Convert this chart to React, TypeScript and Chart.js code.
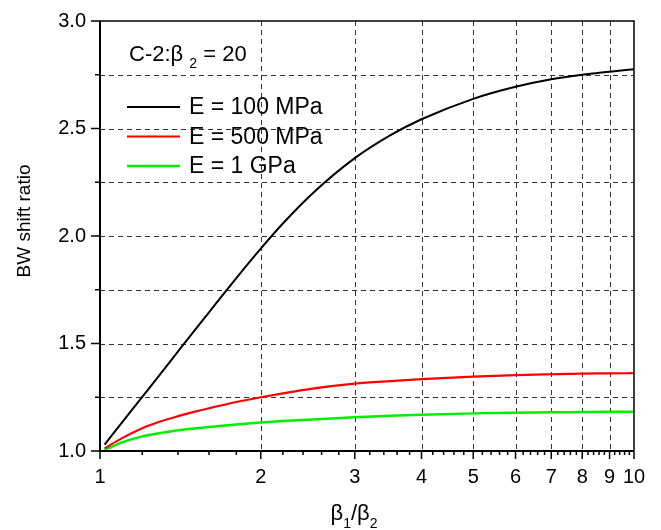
import { useEffect, useRef } from "react";
import { Chart, registerables } from "chart.js";

Chart.register(...registerables);

// ---- data ----
const ratios = [1.02, 1.1, 1.2, 1.3, 1.4, 1.5, 1.6, 1.8, 2, 2.2, 2.5, 3, 3.5, 4, 5, 6, 7, 8, 9, 10];
const e100MPa = [1.03, 1.133, 1.252, 1.361, 1.463, 1.557, 1.645, 1.804, 1.941, 2.058, 2.198, 2.362, 2.469, 2.543, 2.638, 2.694, 2.729, 2.75, 2.764, 2.776];
const e500MPa = [1.012, 1.06, 1.106, 1.138, 1.162, 1.182, 1.199, 1.228, 1.25, 1.268, 1.29, 1.313, 1.325, 1.334, 1.346, 1.353, 1.357, 1.36, 1.361, 1.362];
const e1GPa = [1.004, 1.04, 1.068, 1.084, 1.097, 1.105, 1.112, 1.123, 1.132, 1.139, 1.147, 1.157, 1.164, 1.169, 1.175, 1.178, 1.18, 1.181, 1.182, 1.183];

const seriesLabels = ["E = 100 MPa", "E = 500 MPa", "E = 1 GPa"];
const seriesColors = ["#000000", "#ff0000", "#00ee00"];
const seriesWidths = [2, 2.2, 2.5];

const xTickLabels = [1, 2, 3, 4, 5, 6, 7, 8, 9, 10];
const yTickLabels = [1.0, 1.5, 2.0, 2.5, 3.0];
const yMinorTicks = [1.25, 1.75, 2.25, 2.75];

const FONT = '"Liberation Sans", Arial, Helvetica, sans-serif';

type Part = { t: string; sub?: boolean };

function drawRich(ctx: CanvasRenderingContext2D, parts: Part[], x: number, y: number, size: number, subSize: number, subDrop: number, center = false) {
  const widths = parts.map((p) => {
    ctx.font = `${p.sub ? subSize : size}px ${FONT}`;
    return ctx.measureText(p.t).width;
  });
  const total = widths.reduce((s, w) => s + w, 0);
  let cx = center ? x - total / 2 : x;
  ctx.textAlign = "left";
  ctx.textBaseline = "alphabetic";
  parts.forEach((p, i) => {
    ctx.font = `${p.sub ? subSize : size}px ${FONT}`;
    ctx.fillText(p.t, cx, p.sub ? y + subDrop : y);
    cx += widths[i];
  });
}

const decor = {
  id: "decor",
  beforeDatasetsDraw(chart: any) {
    const { ctx, chartArea: a, scales } = chart;
    const x = scales.x;
    const y = scales.y;
    ctx.save();
    ctx.strokeStyle = "#333";
    ctx.lineWidth = 1;
    ctx.setLineDash([5, 4]);
    for (const v of xTickLabels) {
      if (v <= 1 || v >= 10) continue;
      const px = Math.round(x.getPixelForValue(v)) + 0.5;
      ctx.beginPath();
      ctx.moveTo(px, a.top);
      ctx.lineTo(px, a.bottom);
      ctx.stroke();
    }
    for (const v of [...yTickLabels, ...yMinorTicks]) {
      if (v <= 1 || v >= 3) continue;
      const py = Math.round(y.getPixelForValue(v)) + 0.5;
      ctx.beginPath();
      ctx.moveTo(a.left, py);
      ctx.lineTo(a.right, py);
      ctx.stroke();
    }
    ctx.restore();
  },
  afterDraw(chart: any) {
    const { ctx, chartArea: a, scales } = chart;
    const x = scales.x;
    const y = scales.y;
    ctx.save();
    ctx.setLineDash([]);
    ctx.strokeStyle = "#000";
    // borders
    ctx.lineWidth = 1.5;
    ctx.beginPath();
    ctx.moveTo(a.left, a.top);
    ctx.lineTo(a.right, a.top);
    ctx.lineTo(a.right, a.bottom);
    ctx.stroke();
    ctx.lineWidth = 2;
    ctx.beginPath();
    ctx.moveTo(a.left, a.top);
    ctx.lineTo(a.left, a.bottom);
    ctx.lineTo(a.right, a.bottom);
    ctx.stroke();
    // tick marks
    ctx.lineWidth = 1.5;
    for (const v of yTickLabels) {
      const py = y.getPixelForValue(v);
      ctx.beginPath();
      ctx.moveTo(a.left - 9, py);
      ctx.lineTo(a.left, py);
      ctx.stroke();
    }
    for (const v of yMinorTicks) {
      const py = y.getPixelForValue(v);
      ctx.beginPath();
      ctx.moveTo(a.left - 5, py);
      ctx.lineTo(a.left, py);
      ctx.stroke();
    }
    for (const v of xTickLabels) {
      const px = x.getPixelForValue(v);
      ctx.beginPath();
      ctx.moveTo(px, a.bottom);
      ctx.lineTo(px, a.bottom + 8);
      ctx.stroke();
    }
    for (let d = 1; d < 10; d++) {
      for (let k = 1; k < 5; k++) {
        const v = d + k * 0.2;
        const px = x.getPixelForValue(v);
        ctx.beginPath();
        ctx.moveTo(px, a.bottom);
        ctx.lineTo(px, a.bottom + 4);
        ctx.stroke();
      }
    }
    // legend
    ctx.fillStyle = "#000";
    seriesLabels.forEach((lab, i) => {
      const ly = 107 + i * 29.5;
      ctx.strokeStyle = seriesColors[i];
      ctx.lineWidth = seriesWidths[i];
      ctx.beginPath();
      ctx.moveTo(127, ly);
      ctx.lineTo(180, ly);
      ctx.stroke();
      ctx.font = `23px ${FONT}`;
      ctx.textAlign = "left";
      ctx.textBaseline = "middle";
      ctx.fillText(lab, 189, ly + 1);
    });
    // annotation
    drawRich(ctx, [{ t: "C-2:β " }, { t: "2", sub: true }, { t: " = 20" }], 129, 61, 22, 14, 7);
    // x title
    drawRich(ctx, [{ t: "β" }, { t: "1", sub: true }, { t: "/β" }, { t: "2", sub: true }], 354, 520, 22, 14, 8, true);
    // y title
    ctx.translate(25, 221);
    ctx.rotate(-Math.PI / 2);
    ctx.font = `19px ${FONT}`;
    ctx.textAlign = "center";
    ctx.textBaseline = "middle";
    ctx.fillText("BW shift ratio", 0, 0);
    ctx.restore();
  },
};

export default function App() {
  const ref = useRef<HTMLCanvasElement | null>(null);
  useEffect(() => {
    if (!ref.current) return;
    const mk = (vals: number[]) => ratios.map((r, i) => ({ x: r, y: vals[i] }));
    const chart = new Chart(ref.current, {
      type: "line",
      data: {
        datasets: [e100MPa, e500MPa, e1GPa].map((vals, i) => ({
          label: seriesLabels[i],
          data: mk(vals),
          borderColor: seriesColors[i],
          borderWidth: seriesWidths[i],
          pointRadius: 0,
          cubicInterpolationMode: "monotone" as const,
          fill: false,
        })),
      },
      options: {
        animation: false,
        responsive: true,
        maintainAspectRatio: false,
        layout: { padding: { left: 0, top: 21, right: 27, bottom: 0 } },
        plugins: { legend: { display: false }, tooltip: { enabled: false } },
        scales: {
          x: {
            type: "logarithmic",
            min: 1,
            max: 10,
            afterBuildTicks: (s: any) => {
              s.ticks = xTickLabels.map((v) => ({ value: v }));
            },
            afterFit: (s: any) => {
              s.height = 79;
              s.paddingLeft = 0;
              s.paddingRight = 0;
            },
            grid: { display: false, drawTicks: false },
            border: { display: false },
            ticks: {
              autoSkip: false,
              maxRotation: 0,
              padding: 14,
              color: "#000",
              font: { family: FONT, size: 20 },
              callback: (v: any) => String(v),
            },
          },
          y: {
            type: "linear",
            min: 1,
            max: 3,
            afterBuildTicks: (s: any) => {
              s.ticks = yTickLabels.map((v) => ({ value: v }));
            },
            afterFit: (s: any) => {
              s.width = 100;
              s.paddingTop = 0;
              s.paddingBottom = 0;
            },
            grid: { display: false, drawTicks: false },
            border: { display: false },
            ticks: {
              padding: 14,
              color: "#000",
              font: { family: FONT, size: 20 },
              callback: (v: any) => Number(v).toFixed(1),
            },
          },
        },
      },
      plugins: [decor],
    });
    return () => chart.destroy();
  }, []);
  return (
    <div style={{ position: "fixed", left: 0, top: 0, width: 661, height: 530, background: "#fff" }}>
      <canvas ref={ref} />
    </div>
  );
}
